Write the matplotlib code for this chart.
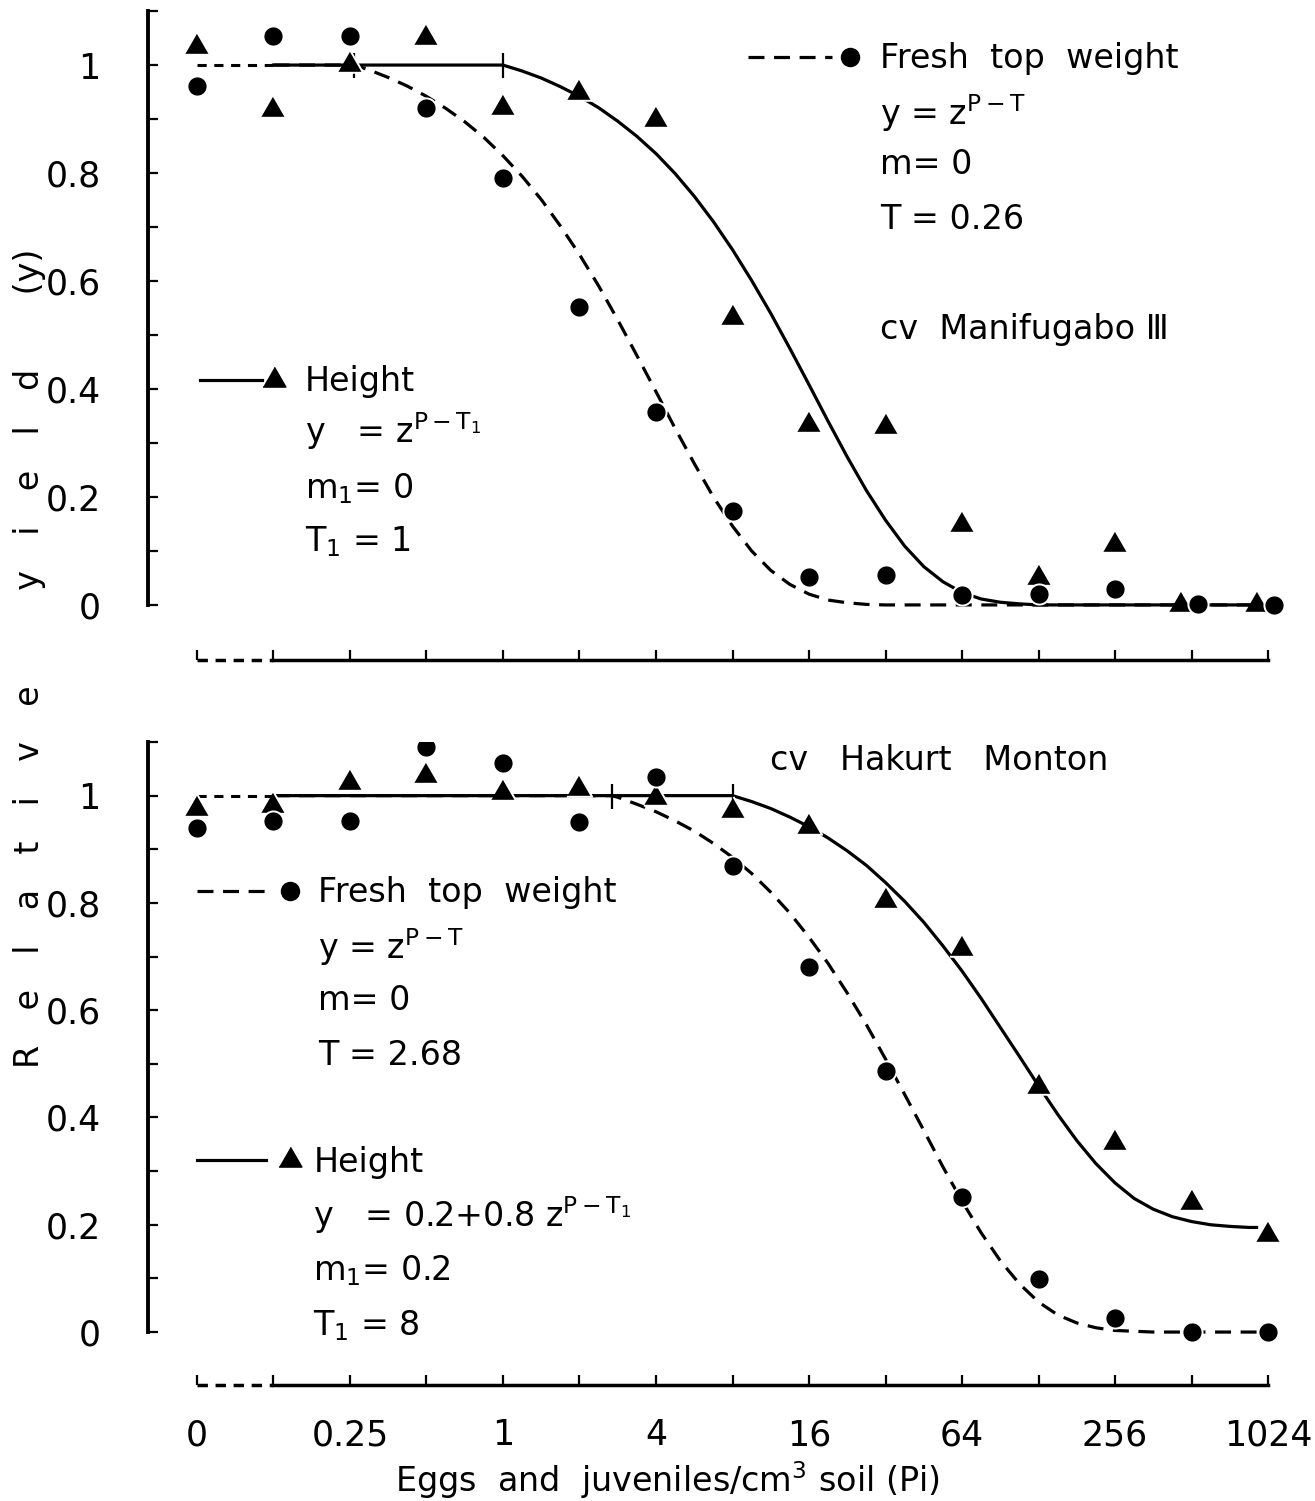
import matplotlib
matplotlib.use("Agg")
import matplotlib.pyplot as plt
import numpy as np

plt.rcParams["font.family"] = ["DejaVu Sans"]
plt.rcParams["mathtext.default"] = "regular"

# density classes, eggs and juveniles per cm3 soil
pi_classes = [0, 0.125, 0.25, 0.5, 1, 2, 4, 8, 16, 32, 64, 128, 256, 512, 1024]
tick_values = [0, 0.25, 1, 4, 16, 64, 256, 1024]
tick_labels = ["0", "0.25", "1", "4", "16", "64", "256", "1024"]

# cv Manifugabo III, relative yield
mani_height = [1.033, 0.917, 1.0, 1.05, 0.92, 0.948, 0.898, 0.531, 0.333, 0.33, 0.148, 0.05, 0.111, 0.0, 0.0]
mani_fresh = [0.961, 1.054, 1.054, 0.92, 0.791, 0.552, 0.357, 0.174, 0.052, 0.056, 0.019, 0.02, 0.03, 0.002, 0.0]

# cv Hakurt Monton, relative yield
hak_height = [0.976, 0.98, 1.024, 1.037, 1.004, 1.013, 0.996, 0.972, 0.942, 0.803, 0.715, 0.456, 0.352, 0.240, 0.181]
hak_fresh = [0.940, 0.953, 0.952, 1.091, 1.061, 0.950, 1.034, 0.868, 0.680, 0.486, 0.251, 0.099, 0.026, 0.0, 0.0]

# fitted curves (x = log2 Pi)
mani_height_fit_x = [-3, 0, 0.25, 0.5, 0.75, 1, 1.25, 1.5, 1.75, 2, 2.25, 2.5, 2.75, 3, 3.25, 3.5,
                     3.75, 4, 4.25, 4.5, 4.75, 5, 5.25, 5.5, 5.75, 6, 6.25, 6.5, 6.75, 7, 9.9]
mani_height_fit_y = [1, 1, 0.989, 0.976, 0.960, 0.942, 0.921, 0.896, 0.868, 0.836, 0.799, 0.757, 0.710,
                     0.658, 0.601, 0.540, 0.475, 0.408, 0.340, 0.274, 0.212, 0.157, 0.109, 0.071, 0.043,
                     0.023, 0.011, 0.005, 0.002, 0.0, 0.0]
mani_fresh_fit_x = [-3, -1.94, -1.75, -1.5, -1.25, -1, -0.75, -0.5, -0.25, 0, 0.25, 0.5, 0.75, 1, 1.25,
                    1.5, 1.75, 2, 2.25, 2.5, 2.75, 3, 3.25, 3.5, 3.75, 4, 4.25, 4.5, 4.75, 5, 9.9]
mani_fresh_fit_y = [1, 1, 0.991, 0.977, 0.961, 0.942, 0.920, 0.895, 0.866, 0.832, 0.794, 0.751, 0.702,
                    0.649, 0.591, 0.528, 0.462, 0.395, 0.327, 0.262, 0.200, 0.146, 0.100, 0.064, 0.038,
                    0.020, 0.009, 0.004, 0.001, 0.0, 0.0]
hak_height_fit_x = [-3, 3, 3.25, 3.5, 3.75, 4, 4.25, 4.5, 4.75, 5, 5.25, 5.5, 5.75, 6, 6.25, 6.5, 6.75,
                    7, 7.25, 7.5, 7.75, 8, 8.25, 8.5, 8.75, 9, 9.25, 9.5, 9.75, 9.85]
hak_height_fit_y = [1, 1, 0.989, 0.976, 0.960, 0.942, 0.921, 0.897, 0.870, 0.838, 0.803, 0.764, 0.720,
                    0.673, 0.622, 0.568, 0.514, 0.459, 0.406, 0.357, 0.314, 0.278, 0.249, 0.229, 0.215,
                    0.206, 0.200, 0.197, 0.195, 0.195]
hak_fresh_fit_x = [-3, 1.42, 1.5, 1.75, 2, 2.25, 2.5, 2.75, 3, 3.25, 3.5, 3.75, 4, 4.25, 4.5, 4.75, 5,
                   5.25, 5.5, 5.75, 6, 6.25, 6.5, 6.75, 7, 7.25, 7.5, 7.75, 8, 8.5, 10]
hak_fresh_fit_y = [1, 1, 0.997, 0.984, 0.970, 0.953, 0.934, 0.911, 0.885, 0.855, 0.820, 0.781, 0.736,
                   0.687, 0.632, 0.573, 0.509, 0.443, 0.376, 0.308, 0.244, 0.185, 0.133, 0.090, 0.056,
                   0.032, 0.017, 0.008, 0.003, 0.0, 0.0]

# tolerance limits (T) marked on the curves
mani_T = [0.26, 1]
hak_T = [2.68, 8]

ZERO_POS = -4  # where Pi = 0 is drawn, left of the axis break
FS = 24
TRI = [(-1, -0.577), (1, -0.577), (0, 1.155)]
DASH = (0, (5, 3))
TRI_MS = 21
DOT_MS = 14.5


def pos(values):
    return [ZERO_POS if v == 0 else np.log2(v) for v in values]


def spaced(word, sep="   \u200a"):
    return sep.join(word)


def setup(ax, ylim, labels):
    ax.set_xlim(-4.64, 10.3)
    ax.set_ylim(*ylim)
    for s in ("top", "right"):
        ax.spines[s].set_visible(False)
    ax.spines["left"].set_bounds(0, 1.1)
    ax.spines["left"].set_linewidth(2.8)
    ax.spines["bottom"].set_bounds(-3, 10)
    ax.spines["bottom"].set_linewidth(2.5)
    ax.plot([ZERO_POS, -3], [0, 0], transform=ax.get_xaxis_transform(), color="k",
            lw=2.5, ls=(0, (3, 2.2)), clip_on=False, solid_capstyle="butt")
    ax.set_yticks([0, 0.2, 0.4, 0.6, 0.8, 1.0])
    ax.set_yticklabels(["0", "0.2", "0.4", "0.6", "0.8", "1"])
    ax.set_yticks([0.1, 0.3, 0.5, 0.7, 0.9, 1.1], minor=True)
    xt = pos(tick_values)
    ax.set_xticks(xt)
    ax.set_xticks([x + 1 for x in xt[:-1]], minor=True)
    ax.set_xticklabels(tick_labels if labels else [])
    ax.tick_params(axis="y", which="both", direction="in", length=7, width=1.6, pad=34, labelsize=25)
    ax.tick_params(axis="x", which="both", direction="in", length=7, width=1.6, pad=24, labelsize=25)


def draw(ax, height, fresh, hfx, hfy, ffx, ffy, T, dodge=(0, 0)):
    # broken part of the curves between Pi = 0 and the first class
    ax.plot([ZERO_POS, -3], [1, 1], color="k", lw=2.2, ls=(0, (3, 2.5)))
    ax.plot(hfx, hfy, color="k", lw=2.3, zorder=2)
    ax.plot(ffx, ffy, color="k", lw=2.3, ls=DASH, zorder=2)
    ax.plot(np.log2(T), [1, 1], ls="none", marker="|", ms=18, mew=1.6, color="k", zorder=2)
    xp = np.array(pos(pi_classes), dtype=float)
    xt = xp.copy()
    xc = xp.copy()
    xt[-2:] += dodge[0]
    xc[-2:] += dodge[1]
    ax.plot(xt, height, ls="none", marker=TRI, ms=TRI_MS, color="k", mec="white", mew=1.4, zorder=3)
    ax.plot(xc, fresh, ls="none", marker="o", ms=DOT_MS, color="k", mec="white", mew=1.4, zorder=3)


def key(ax, x0, x1, xm, y, ls, marker):
    ax.plot([x0, x1], [y, y], color="k", lw=2.3, ls=ls, clip_on=False)
    if marker == "^":
        ax.plot([xm], [y], ls="none", marker=TRI, ms=TRI_MS - 2, color="k", clip_on=False)
    else:
        ax.plot([xm], [y], ls="none", marker="o", ms=DOT_MS - 1.5, color="k", clip_on=False)


fig = plt.figure(figsize=(13.15, 15.01), dpi=100)
ax1 = fig.add_axes([148 / 1315, 1 - 660 / 1501, 1143 / 1315, 650 / 1501])
ax2 = fig.add_axes([148 / 1315, 1 - 1385 / 1501, 1143 / 1315, 643 / 1501])
setup(ax1, (-0.102, 1.102), False)
setup(ax2, (-0.0987, 1.0987), True)

draw(ax1, mani_height, mani_fresh, mani_height_fit_x, mani_height_fit_y,
     mani_fresh_fit_x, mani_fresh_fit_y, mani_T, dodge=(-0.14, 0.08))
draw(ax2, hak_height, hak_fresh, hak_height_fit_x, hak_height_fit_y,
     hak_fresh_fit_x, hak_fresh_fit_y, hak_T)

# top panel annotations
key(ax1, 3.2, 4.3, 4.54, 1.015, DASH, "o")
ax1.text(4.93, 0.994, "Fresh  top  weight", fontsize=FS)
ax1.text(4.93, 0.889, "y = z$^{P-T}$", fontsize=FS)
ax1.text(4.93, 0.798, "m= 0", fontsize=FS)
ax1.text(4.93, 0.696, "T = 0.26", fontsize=FS)
ax1.text(4.93, 0.493, "cv  Manifugabo \u2162", fontsize=FS)
key(ax1, -3.96, -3.15, -2.99, 0.417, "-", "^")
ax1.text(-2.59, 0.396, "Height", fontsize=FS)
ax1.text(-2.59, 0.30, "y   = z$^{P-T_1}$", fontsize=FS)
ax1.text(-2.59, 0.198, "m$_1$= 0", fontsize=FS)
ax1.text(-2.59, 0.10, "T$_1$ = 1", fontsize=FS)

# bottom panel annotations
ax2.text(3.49, 1.047, "cv   Hakurt   Monton", fontsize=FS)
key(ax2, -4.0, -3.02, -2.78, 0.823, DASH, "o")
ax2.text(-2.42, 0.801, "Fresh  top  weight", fontsize=FS)
ax2.text(-2.42, 0.696, "y = z$^{P-T}$", fontsize=FS)
ax2.text(-2.42, 0.600, "m= 0", fontsize=FS)
ax2.text(-2.42, 0.497, "T = 2.68", fontsize=FS)
key(ax2, -4.0, -3.1, -2.78, 0.320, "-", "^")
ax2.text(-2.48, 0.298, "Height", fontsize=FS)
ax2.text(-2.48, 0.196, "y   = 0.2+0.8 z$^{P-T_1}$", fontsize=FS)
ax2.text(-2.48, 0.097, "m$_1$= 0.2", fontsize=FS)
ax2.text(-2.48, -0.006, "T$_1$ = 8", fontsize=FS)

fig.text(667 / 1315, 1 - 1480 / 1501, "Eggs  and  juveniles/cm$^3$ soil (Pi)",
         fontsize=FS, ha="center", va="center")
ylab = spaced("Relative") + " " * 9 + spaced("yield") + " " * 7 + "(y)"
fig.text(30 / 1315, 1 - 658 / 1501, ylab, fontsize=FS, rotation=90, ha="center", va="center")

fig.savefig("out.png", dpi=100)
